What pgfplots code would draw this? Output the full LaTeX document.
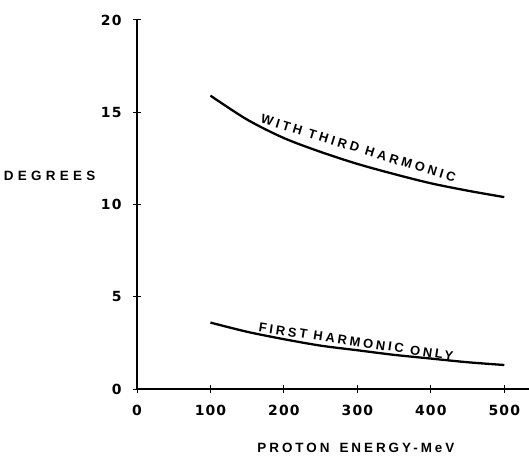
\documentclass[border=0pt]{standalone}
\usepackage{pgfplots}
\pgfplotsset{compat=1.18}
\usepackage{fontspec}
\setmainfont{Liberation Sans}
\newfontfamily\lett[LetterSpace=22]{Liberation Sans}
\newfontfamily\lettu[LetterSpace=25]{Liberation Sans}
\newfontfamily\lettw[LetterSpace=32]{Liberation Sans}
\newfontfamily\lettb[LetterSpace=8]{DejaVu Sans}
\begin{document}
\begin{tikzpicture}[x=1bp,y=1bp]
\begin{axis}[
  scale only axis,
  width=393bp, height=369bp,
  xmin=0, xmax=535, ymin=0, ymax=20,
  axis lines=left,
  axis line style={-, line width=1.2pt},
  xtick={0,100,...,500}, ytick={0,5,...,20},
  tick align=center, major tick length=8bp,
  tick style={line width=1pt, black},
  /pgf/number format/assume math mode=true,
  ticklabel style={font=\lettb\bfseries\fontsize{14}{16}\selectfont},
  xticklabel style={yshift=-9bp},
  yticklabel style={xshift=-8bp},
  clip=false,
]
\addplot[line width=2.3pt, smooth] coordinates {
 (100,15.9) (150,14.6) (200,13.6) (250,12.85) (300,12.2) (350,11.65) (400,11.15) (450,10.75) (500,10.4)};
\addplot[line width=2.3pt, smooth] coordinates {
 (100,3.6) (150,3.1) (200,2.7) (250,2.35) (300,2.1) (350,1.85) (400,1.65) (450,1.45) (500,1.3)};
\node[rotate=-17, anchor=south, inner sep=1bp, font=\lettu\bfseries\fontsize{13}{14}\selectfont] at (axis cs:299,12.75) {WITH THIRD HARMONIC};
\node[rotate=-8.5, anchor=south, inner sep=1bp, font=\lett\bfseries\fontsize{13}{14}\selectfont] at (axis cs:297,2.25) {FIRST HARMONIC ONLY};
\node[font=\lettw\bfseries\fontsize{13.5}{15}\selectfont, anchor=west] at (axis cs:-186,11.55) {DEGREES};
\node[font=\lett\bfseries\fontsize{13.5}{15}\selectfont] at (axis cs:298,-3.2) {PROTON\hspace{10bp}ENERGY-MeV};
\end{axis}
\pgfresetboundingbox
\path (-137bp,-71bp) rectangle (392bp,389bp);
\end{tikzpicture}
\end{document}
